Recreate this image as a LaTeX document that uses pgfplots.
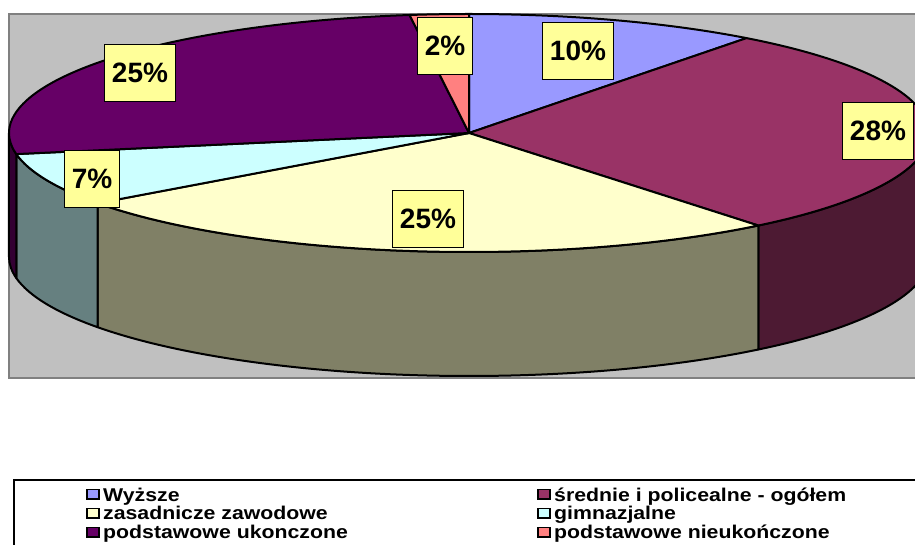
\documentclass[border=0pt]{standalone}
\usepackage{pgfplots}
\pgfplotsset{compat=1.18}
\usepackage{fontspec}
\setmainfont{Liberation Sans}
\newfontfamily\legfont{Liberation Sans}[FakeStretch=1.15]
\definecolor{cA}{HTML}{9999FF}
\definecolor{cB}{HTML}{993366}
\definecolor{cC}{HTML}{FFFFCC}
\definecolor{cD}{HTML}{CCFFFF}
\definecolor{cE}{HTML}{660066}
\definecolor{cF}{HTML}{FF8080}
\definecolor{sB}{HTML}{4D1A33}
\definecolor{sC}{HTML}{808066}
\definecolor{sD}{HTML}{668080}
\definecolor{sE}{HTML}{330033}
\definecolor{areagray}{HTML}{C0C0C0}
\definecolor{bordergray}{HTML}{808080}
\definecolor{lblyellow}{HTML}{FFFF99}
% data (percent shares, clockwise from 12 o'clock)
\def\vA{10}\def\vB{28}\def\vC{25}\def\vD{7}\def\vE{25}\def\vF{2}
\pgfmathsetmacro\tot{\vA+\vB+\vC+\vD+\vE+\vF}
\pgfmathsetmacro\bA{360*\vA/\tot}
\pgfmathsetmacro\bB{\bA+360*\vB/\tot}
\pgfmathsetmacro\bC{\bB+360*\vC/\tot}
\pgfmathsetmacro\bD{\bC+360*\vD/\tot}
\pgfmathsetmacro\bE{\bD+360*\vE/\tot}
\def\bF{360}
% geometry
\def\cx{469}\def\cy{411}\def\rx{460}\def\ry{119}\def\dep{124}
\newcommand\topslice[3]{\filldraw[fill=#3,draw=black,line width=2pt,line join=round]
  (axis cs:\cx,\cy) -- (axis cs:{\cx+\rx*sin(#1)},{\cy+\ry*cos(#1)})
  arc[start angle={90-(#1)}, end angle={90-(#2)}, x radius=\rx pt, y radius=\ry pt] -- cycle;}
\newcommand\wall[3]{\filldraw[fill=#3,draw=black,line width=2pt,line join=round]
  (axis cs:{\cx+\rx*sin(#1)},{\cy+\ry*cos(#1)})
  arc[start angle={90-(#1)}, end angle={90-(#2)}, x radius=\rx pt, y radius=\ry pt]
  -- ++(0pt,-\dep pt)
  arc[start angle={90-(#2)}, end angle={90-(#1)}, x radius=\rx pt, y radius=\ry pt] -- cycle;}
\newcommand\lbl[3]{\node[fill=lblyellow,draw=black,line width=1.5pt,inner xsep=7.5pt,inner ysep=0pt,
  minimum height=57pt,font=\fontsize{28}{30}\selectfont\bfseries] at (axis cs:#1,#2) {#3\%};}
% legend entry: x of square, y of square centre, baseline y, colour, text
\newcommand\leg[5]{\filldraw[fill=#4,draw=black,line width=1.4pt] (axis cs:{#1},{#2-4.8}) rectangle (axis cs:{#1+12},{#2+4.8});
  \node[anchor=base west,inner sep=0pt] at (axis cs:{#1+16},{#3}) {\legfont\bfseries\fontsize{18.5}{18.5}\selectfont #5};}
\begin{document}
\begin{tikzpicture}
\begin{axis}[width=915pt,height=544pt,scale only axis,xmin=0,xmax=915,ymin=0,ymax=544,
  axis lines=none,clip=true]
% plot area
\filldraw[fill=areagray,draw=bordergray,line width=2pt] (axis cs:9,166) rectangle (axis cs:935,530);
% side walls (front half)
\wall{90}{\bB}{sB}
\wall{\bB}{\bC}{sC}
\wall{\bC}{\bD}{sD}
\wall{\bD}{270}{sE}
% top face
\topslice{0}{\bA}{cA}
\topslice{\bA}{\bB}{cB}
\topslice{\bB}{\bC}{cC}
\topslice{\bC}{\bD}{cD}
\topslice{\bD}{\bE}{cE}
\topslice{\bE}{\bF}{cF}
% labels
\lbl{578}{493}{10}
\lbl{878}{413}{28}
\lbl{428}{325}{25}
\lbl{92}{365}{7}
\lbl{140}{471}{25}
\lbl{445}{498}{2}
% legend
\draw[line width=2pt] (axis cs:14,-20) rectangle (axis cs:940,64);
\leg{87}{50}{43}{cA}{Wyższe}
\leg{87}{31}{24.5}{cC}{zasadnicze zawodowe}
\leg{87}{12}{6}{cE}{podstawowe ukonczone}
\leg{538}{50}{43}{cB}{średnie i policealne - ogółem}
\leg{538}{31}{24.5}{cD}{gimnazjalne}
\leg{538}{12}{6}{cF}{podstawowe nieukończone}
\end{axis}
\pgfresetboundingbox
\useasboundingbox (0,0) rectangle (915pt,544pt);
\end{tikzpicture}
\end{document}
